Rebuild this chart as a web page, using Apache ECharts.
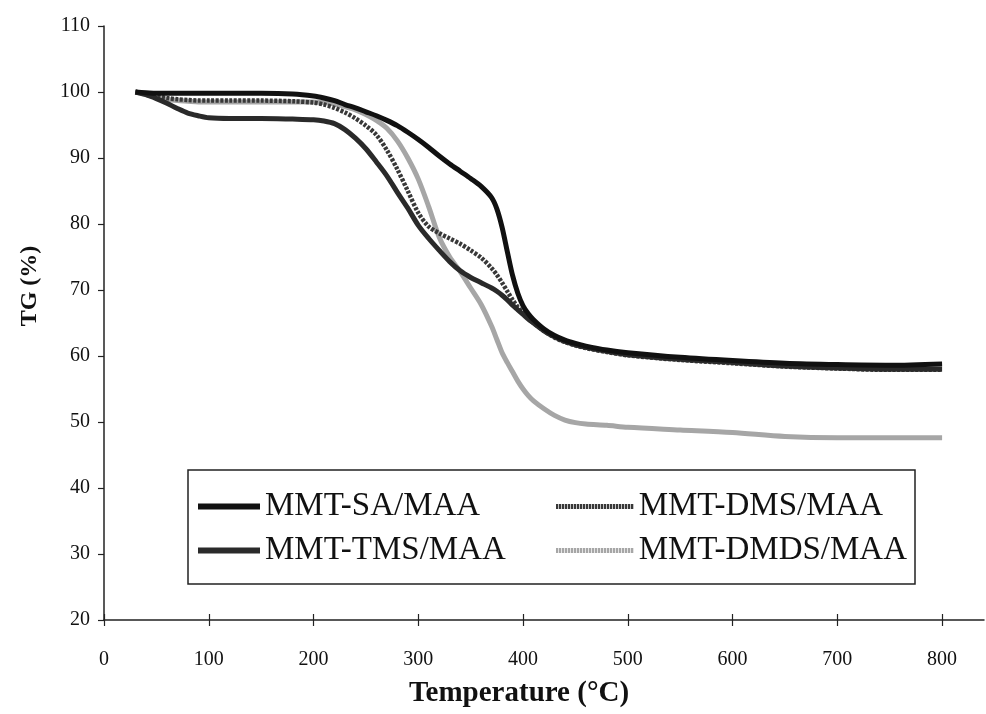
<!DOCTYPE html>
<html><head><meta charset="utf-8">
<script src="https://cdn.jsdelivr.net/npm/echarts@6/dist/echarts.min.js"></script>
<style>html,body{margin:0;padding:0;background:#fff}#c{width:986px;height:714px}</style>
</head><body><div id="c"></div>
<script>
// Temperature (°C) sample points
const temps = [30,40,50,60,70,80,90,100,120,150,180,200,210,220,230,240,250,260,270,280,290,300,310,320,330,340,350,360,370,375,380,385,390,395,400,405,410,420,430,440,450,460,480,500,550,600,650,700,750,800];

const tgSA = [100,99.9,99.8,99.8,99.8,99.8,99.8,99.8,99.8,99.8,99.7,99.4,99.1,98.7,98.1,97.6,97.0,96.4,95.7,94.9,93.9,92.8,91.6,90.3,89.1,88.0,86.9,85.7,84.0,82.3,79.5,75.8,72.2,69.5,67.6,66.4,65.5,64.1,63.1,62.4,61.9,61.5,60.9,60.5,59.8,59.3,58.9,58.7,58.6,58.8];

const tgTMS = [100,99.6,99.0,98.3,97.5,96.8,96.4,96.1,96.0,96.0,95.9,95.8,95.6,95.2,94.3,93.0,91.4,89.4,87.3,84.8,82.4,79.8,77.8,76.0,74.3,72.9,71.9,71.1,70.3,69.8,69.2,68.5,67.7,67.0,66.3,65.6,65.0,63.8,62.9,62.2,61.7,61.3,60.7,60.2,59.5,59.0,58.5,58.2,58.0,58.0];

const tgDMS = [100,99.7,99.4,99.1,98.9,98.8,98.7,98.7,98.7,98.7,98.6,98.4,98.1,97.6,96.9,96.0,94.9,93.5,91.2,88.3,85.0,81.7,79.6,78.6,77.8,77.0,76.0,74.9,73.3,72.3,71.1,69.8,68.5,67.4,66.5,65.7,65.0,63.8,62.8,62.1,61.6,61.2,60.6,60.1,59.4,58.9,58.4,58.1,57.9,57.9];

const tgDMDS = [100,99.6,99.2,98.9,98.7,98.6,98.5,98.5,98.5,98.5,98.5,98.5,98.4,98.2,97.8,97.3,96.6,95.7,94.5,92.6,90.0,86.8,82.6,78.0,75.0,72.8,70.3,67.8,64.5,62.5,60.5,59.0,57.6,56.2,55.0,54.0,53.2,52.0,51.0,50.3,49.9,49.7,49.5,49.2,48.8,48.4,47.8,47.6,47.6,47.6];

const xTickValues = [0,100,200,300,400,500,600,700,800];
const seriesNames = ['MMT-SA/MAA','MMT-TMS/MAA','MMT-DMS/MAA','MMT-DMDS/MAA'];

const pairs = arr => temps.map((t,i)=>[t,arr[i]]);
const serif = 'Liberation Serif';

// bead-like legend icon (row of small blocks, 78 x 5 box)
function beadPath(n){
  let s = 'path://';
  for(let i=0;i<n;i++){ s += 'M'+(i*3)+',0h2.3v5h-2.3z '; }
  return s.trim();
}

const chart = echarts.init(document.getElementById('c'), null, {renderer:'canvas'});
chart.setOption({
  animation:false,
  backgroundColor:'#fff',
  grid:{left:104,right:2,top:26,bottom:94,containLabel:false},
  xAxis:[{
    type:'value', min:0, max:840,
    name:'Temperature (°C)', nameLocation:'middle', nameGap:59,
    nameTextStyle:{fontFamily:serif,fontWeight:'bold',fontSize:29,color:'#111',padding:[0,50,0,0]},
    axisLine:{show:true,lineStyle:{color:'#222',width:1.5}},
    axisTick:{show:true,inside:false,length:6,customValues:xTickValues,lineStyle:{color:'#222',width:1.2}},
    axisLabel:{customValues:xTickValues,fontFamily:serif,fontSize:20,color:'#111',margin:30},
    splitLine:{show:false}
  },{
    type:'value', min:0, max:840, position:'bottom',
    axisLine:{show:false},
    axisTick:{show:true,inside:true,length:6,customValues:xTickValues,lineStyle:{color:'#222',width:1.2}},
    axisLabel:{show:false},
    splitLine:{show:false}
  }],
  yAxis:{
    type:'value', min:20, max:110, interval:10,
    name:'TG (%)', nameLocation:'middle', nameGap:62, nameRotate:90,
    nameTextStyle:{fontFamily:serif,fontWeight:'bold',fontSize:24,color:'#111',padding:[0,0,0,74]},
    axisLine:{show:true,lineStyle:{color:'#222',width:1.5}},
    axisTick:{show:true,inside:false,length:6,lineStyle:{color:'#222',width:1.2}},
    axisLabel:{fontFamily:serif,fontSize:20,color:'#111',margin:14},
    splitLine:{show:false}
  },
  legend:[{
    data:[{name:'MMT-SA/MAA',icon:'rect'},{name:'MMT-TMS/MAA',icon:'rect'}],
    orient:'vertical', left:198, top:490,
    itemWidth:62, itemHeight:6, itemGap:11, padding:0,
    textStyle:{fontFamily:serif,fontSize:33,color:'#111'}, z:6
  },{
    data:[{name:'MMT-DMS/MAA',icon:beadPath(26)},{name:'MMT-DMDS/MAA',icon:beadPath(26)}],
    orient:'vertical', left:556, top:490,
    itemWidth:78, itemHeight:5, itemGap:11, padding:0,
    textStyle:{fontFamily:serif,fontSize:33,color:'#111'}, z:6
  }],
  graphic:[{
    type:'rect', z:5,
    shape:{x:188,y:470,width:727,height:114},
    style:{fill:'#fff',stroke:'#222',lineWidth:1.5}
  }],
  series:[
    {name:seriesNames[3], type:'line', data:pairs(tgDMDS), showSymbol:false, symbol:'none', smooth:0.3,
     lineStyle:{color:'#a6a6a6',width:5}, itemStyle:{color:'#a6a6a6'}, z:2},
    {name:seriesNames[2], type:'line', data:pairs(tgDMS), showSymbol:false, symbol:'none', smooth:0.3,
     lineStyle:{color:'#383838',width:4.5,type:[3,1.5]}, itemStyle:{color:'#383838'}, z:3},
    {name:seriesNames[1], type:'line', data:pairs(tgTMS), showSymbol:false, symbol:'none', smooth:0.3,
     lineStyle:{color:'#2a2a2a',width:5}, itemStyle:{color:'#2a2a2a'}, z:3},
    {name:seriesNames[0], type:'line', data:pairs(tgSA), showSymbol:false, symbol:'none', smooth:0.3,
     lineStyle:{color:'#111',width:5}, itemStyle:{color:'#111'}, z:4}
  ]
});
</script>
</body></html>
